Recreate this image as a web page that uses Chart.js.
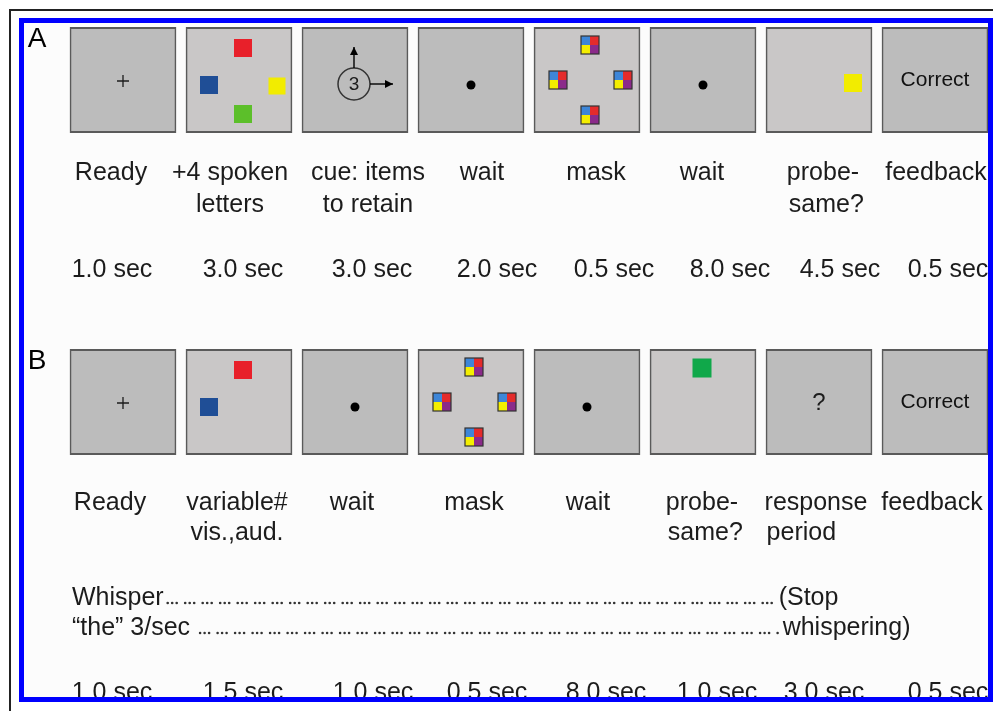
<!DOCTYPE html>
<html>
<head>
<meta charset="utf-8">
<script src="https://cdn.jsdelivr.net/npm/chart.js@4.4.1/dist/chart.umd.min.js"></script>
<style>
  html, body { margin: 0; padding: 0; background: #fff; }
  #page { position: relative; width: 993px; height: 711px; overflow: hidden; }
  #frameBlack { position: absolute; left: 9px; top: 9px; width: 990px; height: 710px;
    border-left: 2px solid #222; border-top: 2px solid #222; }
  #bg { position: absolute; left: 24px; top: 23px; width: 964px; height: 674px; background: #fcfcfc; }
  #frameBlue { position: absolute; left: 19px; top: 18px; width: 964px; height: 674px;
    border: 5px solid #0000ff; z-index: 5; }
  canvas { position: absolute; left: 0; top: 0; z-index: 2; }
</style>
</head>
<body>
<div id="page">
  <div id="frameBlack"></div>
  <div id="bg"></div>
  <canvas id="panelA" width="993" height="711"></canvas>
  <canvas id="panelB" width="993" height="711"></canvas>
  <div id="frameBlue"></div>
</div>
<script>
// panel A: trial sequence with spoken letters
const stagesA = [["Ready"], ["+4 spoken", "letters"], ["cue: items", "to retain"], ["wait"], ["mask"], ["wait"], ["probe-", "same?"], ["feedback"]];
const durationsA = ["1.0 sec", "3.0 sec", "3.0 sec", "2.0 sec", "0.5 sec", "8.0 sec", "4.5 sec", "0.5 sec"];
const screensA = ["fixation", "fourColors", "cue", "dot", "mask", "dot", "probeYellow", "correct"];

// panel B: trial sequence with whispering
const stagesB = [["Ready"], ["variable#", "vis.,aud."], ["wait"], ["mask"], ["wait"], ["probe-", "same?"], ["response", "period"], ["feedback"]];
const durationsB = ["1.0 sec", "1.5 sec", "1.0 sec", "0.5 sec", "8.0 sec", "1.0 sec", "3.0 sec", "0.5 sec"];
const screensB = ["fixation", "twoColors", "dot", "mask", "dot", "probeGreen", "question", "correct"];

const whisperStart = ["Whisper", "\u201cthe\u201d 3/sec"];
const whisperEnd = ["(Stop", "whispering)"];

const FONT = '"Liberation Sans", Arial, sans-serif';
const INK = "#1c1c1c";
const LIGHT_SCREENS = ["fourColors", "twoColors", "mask", "probeYellow", "probeGreen"];

function square(ctx, x, y, size, color) {
  ctx.fillStyle = color;
  ctx.fillRect(x - size / 2, y - size / 2, size, size);
}

function maskTile(ctx, x, y) {
  const s = 9;
  ctx.fillStyle = "#3d86d8"; ctx.fillRect(x - s, y - s, s, s);
  ctx.fillStyle = "#e42b2b"; ctx.fillRect(x, y - s, s, s);
  ctx.fillStyle = "#f4ee00"; ctx.fillRect(x - s, y, s, s);
  ctx.fillStyle = "#8b2a8a"; ctx.fillRect(x, y, s, s);
  ctx.strokeStyle = "#333"; ctx.lineWidth = 1.2;
  ctx.strokeRect(x - s, y - s, 2 * s, 2 * s);
}

function arrow(ctx, x0, y0, x1, y1) {
  ctx.beginPath(); ctx.moveTo(x0, y0); ctx.lineTo(x1, y1); ctx.stroke();
  const a = Math.atan2(y1 - y0, x1 - x0);
  ctx.beginPath();
  ctx.moveTo(x1, y1);
  ctx.lineTo(x1 - 8 * Math.cos(a) + 4 * Math.sin(a), y1 - 8 * Math.sin(a) - 4 * Math.cos(a));
  ctx.lineTo(x1 - 8 * Math.cos(a) - 4 * Math.sin(a), y1 - 8 * Math.sin(a) + 4 * Math.cos(a));
  ctx.closePath(); ctx.fill();
}

function drawScreen(ctx, kind, cx, cy) {
  ctx.save();
  ctx.fillStyle = INK; ctx.strokeStyle = INK;
  ctx.textAlign = "center"; ctx.textBaseline = "middle";
  if (kind === "fixation") {
    ctx.lineWidth = 1.3;
    ctx.beginPath();
    ctx.moveTo(cx - 6, cy + 1); ctx.lineTo(cx + 6, cy + 1);
    ctx.moveTo(cx, cy - 5); ctx.lineTo(cx, cy + 7);
    ctx.stroke();
  } else if (kind === "dot") {
    ctx.fillStyle = "#000";
    ctx.beginPath(); ctx.arc(cx, cy + 5, 4.5, 0, Math.PI * 2); ctx.fill();
  } else if (kind === "fourColors" || kind === "twoColors") {
    square(ctx, cx + 4, cy - 32, 18, "#e8202a");
    square(ctx, cx - 30, cy + 5, 18, "#1f4e96");
    if (kind === "fourColors") {
      square(ctx, cx + 38, cy + 6, 17, "#f2ec00");
      square(ctx, cx + 4, cy + 34, 18, "#5cbf2a");
    }
  } else if (kind === "cue") {
    const ox = cx - 1, oy = cy + 4;
    ctx.lineWidth = 1.5; ctx.strokeStyle = "#333";
    ctx.beginPath(); ctx.arc(ox, oy, 16, 0, Math.PI * 2); ctx.stroke();
    ctx.font = "19px " + FONT;
    ctx.fillText("3", ox, oy + 1);
    ctx.fillStyle = "#000"; ctx.strokeStyle = "#000"; ctx.lineWidth = 1.4;
    arrow(ctx, ox, oy - 16, ox, cy - 33);
    arrow(ctx, ox + 16, oy, cx + 38, oy);
  } else if (kind === "mask") {
    maskTile(ctx, cx + 3, cy - 35);
    maskTile(ctx, cx - 29, cy);
    maskTile(ctx, cx + 36, cy);
    maskTile(ctx, cx + 3, cy + 35);
  } else if (kind === "probeYellow") {
    square(ctx, cx + 34, cy + 3, 18, "#f2ec00");
  } else if (kind === "probeGreen") {
    square(ctx, cx - 1, cy - 34, 19, "#10a84a");
  } else if (kind === "question") {
    ctx.font = "24px " + FONT;
    ctx.fillText("?", cx, cy + 1);
  } else if (kind === "correct") {
    ctx.fillStyle = "#111";
    ctx.font = "21px " + FONT;
    ctx.fillText("Correct", cx, cy);
  }
  ctx.restore();
}

// dotted leader in groups of three, running right up to x1
function drawDots(ctx, x0, x1, y) {
  ctx.fillStyle = "#333";
  for (let k = 0; ; k++) {
    const x = x0 + Math.floor(k / 3) * 17.5 + (k % 3) * 4.5;
    if (x > x1) break;
    ctx.beginPath(); ctx.arc(x, y, 1.3, 0, Math.PI * 2); ctx.fill();
  }
}

function makePanel(id, letter, stages, durations, screens, layout) {
  const textPlugin = {
    id: "panelText",
    afterDatasetsDraw(chart) {
      const ctx = chart.ctx;
      chart.getDatasetMeta(0).data.forEach((bar, i) => {
        drawScreen(ctx, screens[i], bar.x, (bar.y + bar.base) / 2);
      });
    },
    afterDraw(chart) {
      const ctx = chart.ctx;
      const area = chart.chartArea;
      const xs = chart.scales.x;
      ctx.save();
      ctx.fillStyle = "#000";
      ctx.textBaseline = "middle";
      ctx.textAlign = "center";
      ctx.font = "28px " + FONT;
      ctx.fillText(letter, area.left - 28, area.top + 12);

      ctx.fillStyle = INK;
      ctx.font = "25px " + FONT;
      ctx.textBaseline = "alphabetic";
      stages.forEach((lines, i) => {
        const x = xs.getPixelForValue(i) + layout.labelShift[i];
        const left = x - ctx.measureText(lines[0]).width / 2;
        lines.forEach((t, j) => {
          const y = area.bottom + layout.labelRows[j];
          if (j > 0 && layout.leftAligned.includes(i)) {
            ctx.textAlign = "left";
            ctx.fillText(t, left + 2, y);
            ctx.textAlign = "center";
          } else {
            ctx.fillText(t, x, y);
          }
        });
      });
      durations.forEach((t, i) => {
        ctx.fillText(t, xs.getPixelForValue(i) + layout.durationShift[i], area.bottom + layout.durationRow);
      });

      if (layout.whisperRows) {
        const bars = chart.getDatasetMeta(0).data;
        const stopX = bars[6].x - bars[6].width / 2 + 13;
        ctx.textAlign = "left";
        layout.whisperRows.forEach((dy, j) => {
          const y = area.bottom + dy;
          const startX = area.left + 7;
          ctx.fillStyle = INK;
          ctx.fillText(whisperStart[j], startX, y);
          const w = ctx.measureText(whisperStart[j]).width;
          const endX = stopX + (j === 1 ? 4 : 0);
          ctx.fillText(whisperEnd[j], endX, y);
          drawDots(ctx, startX + w + 4 + j * 6, endX - 3, y - 2);
        });
      }
      ctx.restore();
    },
  };

  return new Chart(document.getElementById(id), {
    type: "bar",
    data: {
      labels: stages.map((s) => s.join(" ")),
      datasets: [
        {
          data: stages.map(() => 1),
          backgroundColor: screens.map((s) => (LIGHT_SCREENS.includes(s) ? "#c9c7c7" : "#bcbcbc")),
          borderColor: "#5a5a5a",
          borderWidth: 2,
          borderSkipped: false,
          barPercentage: 0.92,
          categoryPercentage: 1,
        },
      ],
    },
    options: {
      responsive: false,
      animation: false,
      devicePixelRatio: 1,
      layout: { padding: layout.padding },
      plugins: { legend: { display: false }, tooltip: { enabled: false } },
      scales: {
        x: { type: "category", display: false, offset: true },
        y: { type: "linear", display: false, min: 0, max: 1 },
      },
    },
    plugins: [textPlugin],
  });
}

makePanel("panelA", "A", stagesA, durationsA, screensA, {
  padding: { left: 65, right: 0, top: 27, bottom: 578 },
  labelRows: [47, 79],
  labelShift: [-12, -9, 13, 11, 9, -1, 4, 1],
  leftAligned: [6],
  durationRow: 144,
  durationShift: [-11, 4, 17, 26, 27, 27, 21, 13],
});

makePanel("panelB", "B", stagesB, durationsB, screensB, {
  padding: { left: 65, right: 0, top: 349, bottom: 256 },
  labelRows: [55, 85],
  labelShift: [-13, -2, -3, 3, 1, -1, -3, -3],
  leftAligned: [5, 6],
  whisperRows: [150, 180],
  durationRow: 245,
  durationShift: [-11, 4, 18, 16, 19, 14, 5, 13],
});
</script>
</body>
</html>
